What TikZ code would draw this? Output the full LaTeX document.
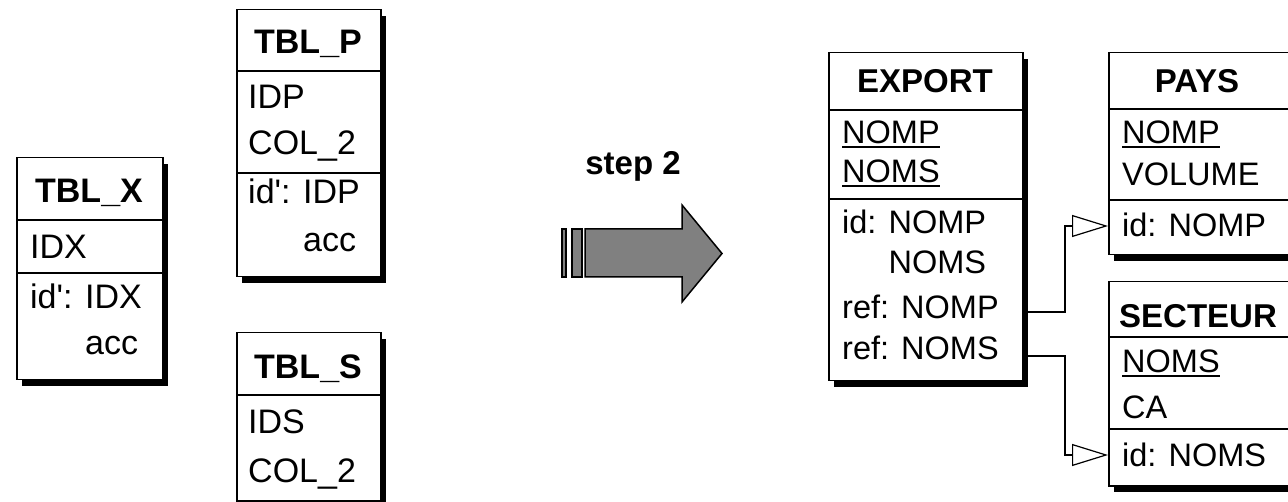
\documentclass[tikz,border=0pt]{standalone}
\usepackage{fontspec}
\setmainfont{Liberation Sans}
\usetikzlibrary{arrows.meta,calc}
\begin{document}
\begin{tikzpicture}[x=1pt,y=-1pt,
  tbl/.style={draw=black, line width=1.5pt, fill=white, inner sep=0pt, anchor=north west,
     preaction={fill=black, transform canvas={shift={(5pt,-6pt)}}}},
  div/.style={line width=1.2pt},
  lt/.style={font=\fontsize{34}{40}\selectfont, anchor=base west, inner sep=0pt},
  lh/.style={font=\fontsize{34}{40}\selectfont\bfseries, anchor=base, inner sep=0pt},
  rt/.style={font=\fontsize{32.5}{40}\selectfont, anchor=base west, inner sep=0pt},
  rh/.style={font=\fontsize{33}{40}\selectfont\bfseries, anchor=base, inner sep=0pt},
  conn/.style={line width=1.2pt, -{Triangle[open, length=36pt, width=22pt, line width=1.2pt]}},
  bigarrow/.style={draw=black, line width=1.5pt, fill=black!50, line join=miter}
]
\useasboundingbox (0,0) rectangle (1288,502);
\clip (0,0) rectangle (1288,502);

% TBL_X
\node[tbl, minimum width=146pt, minimum height=222pt] (X) at (16,157) {};
\draw[div] (16,220) -- (162,220);
\draw[div] (16,273) -- (162,273);
\node[lh] (Xt) at (89,203) {TBL\_X};
\node[lt] (Xa) at (30,259) {IDX};
\node[lt] (Xb) at (30,309) {id\textquotesingle: IDX};
\node[lt] (Xc) at (30,355) {\phantom{id\textquotesingle: }acc};

% TBL_P
\node[tbl, minimum width=144pt, minimum height=267pt] (TP) at (236,9) {};
\draw[div] (236,71) -- (380,71);
\draw[div] (236,173) -- (380,173);
\node[lh] (Pt) at (308,54) {TBL\_P};
\node[lt] (Pa) at (248,109) {IDP};
\node[lt] (Pb) at (248,155) {COL\_2};
\node[lt] (Pc) at (248,204) {id\textquotesingle: IDP};
\node[lt] (Pd) at (248,252) {\phantom{id\textquotesingle: }acc};

% TBL_S
\node[tbl, minimum width=144pt, minimum height=168pt] (TS) at (236,332) {};
\draw[div] (236,395) -- (380,395);
\node[lh] (St) at (308,379) {TBL\_S};
\node[lt] (Sa) at (248,434) {IDS};
\node[lt] (Sb) at (248,482) {COL\_2};

% step arrow
\node[font=\fontsize{33}{40}\selectfont\bfseries, anchor=base, inner sep=0pt] (step) at (633,175) {step 2};
\draw[bigarrow] (562,229) rectangle (566,277);
\draw[bigarrow] (572,229) rectangle (582,277);
\draw[bigarrow] (585,229) -- (682,229) -- (682,205) -- (722,253.5) -- (682,302) -- (682,277) -- (585,277) -- cycle;

% EXPORT
\node[tbl, minimum width=194pt, minimum height=328pt] (E) at (828,52) {};
\draw[div] (828,110) -- (1022,110);
\draw[div] (828,199) -- (1022,199);
\node[rh] (Et) at (925,93) {EXPORT};
\node[rt] (Ea) at (842,144) {NOMP};
\node[rt] (Eb) at (842,183) {NOMS};
\node[rt] (Ec) at (842,234) {id: NOMP};
\node[rt] (Ed) at (842,274) {\phantom{id: }NOMS};
\node[rt] (Ee) at (842,319) {ref: NOMP};
\node[rt] (Ef) at (842,360) {ref: NOMS};
\draw[line width=2pt] ([yshift=-3pt]Ea.base west) -- ([yshift=-3pt]Ea.base east);
\draw[line width=2pt] ([yshift=-3pt]Eb.base west) -- ([yshift=-3pt]Eb.base east);

% PAYS
\node[tbl, minimum width=180pt, minimum height=202pt] (PA) at (1108,52) {};
\draw[div] (1108,109) -- (1288,109);
\draw[div] (1108,200) -- (1288,200);
\node[rh] (PAt) at (1197,93) {PAYS};
\node[rt] (PAa) at (1122,144) {NOMP};
\node[rt] (PAb) at (1122,186) {VOLUME};
\node[rt] (PAc) at (1122,237) {id: NOMP};
\draw[line width=2pt] ([yshift=-3pt]PAa.base west) -- ([yshift=-3pt]PAa.base east);

% SECTEUR
\node[tbl, minimum width=180pt, minimum height=204pt] (SE) at (1108,281) {};
\draw[div] (1108,337) -- (1288,337);
\draw[div] (1108,429) -- (1288,429);
\node[rh] (SEt) at (1198,328) {SECTEUR};
\node[rt] (SEa) at (1122,373) {NOMS};
\node[rt] (SEb) at (1122,419) {CA};
\node[rt] (SEc) at (1122,466) {id: NOMS};
\draw[line width=2pt] ([yshift=-3pt]SEa.base west) -- ([yshift=-3pt]SEa.base east);

% connectors
\coordinate (c1) at (1065,312);
\coordinate (c2) at (1065,356);
\draw[conn] (E.east |- c1) -- (c1) -- (1065,226) -- (PA.west |- 0,226);
\draw[conn] (E.east |- c2) -- (c2) -- (1065,455) -- (SE.west |- 0,455);
\end{tikzpicture}
\end{document}
